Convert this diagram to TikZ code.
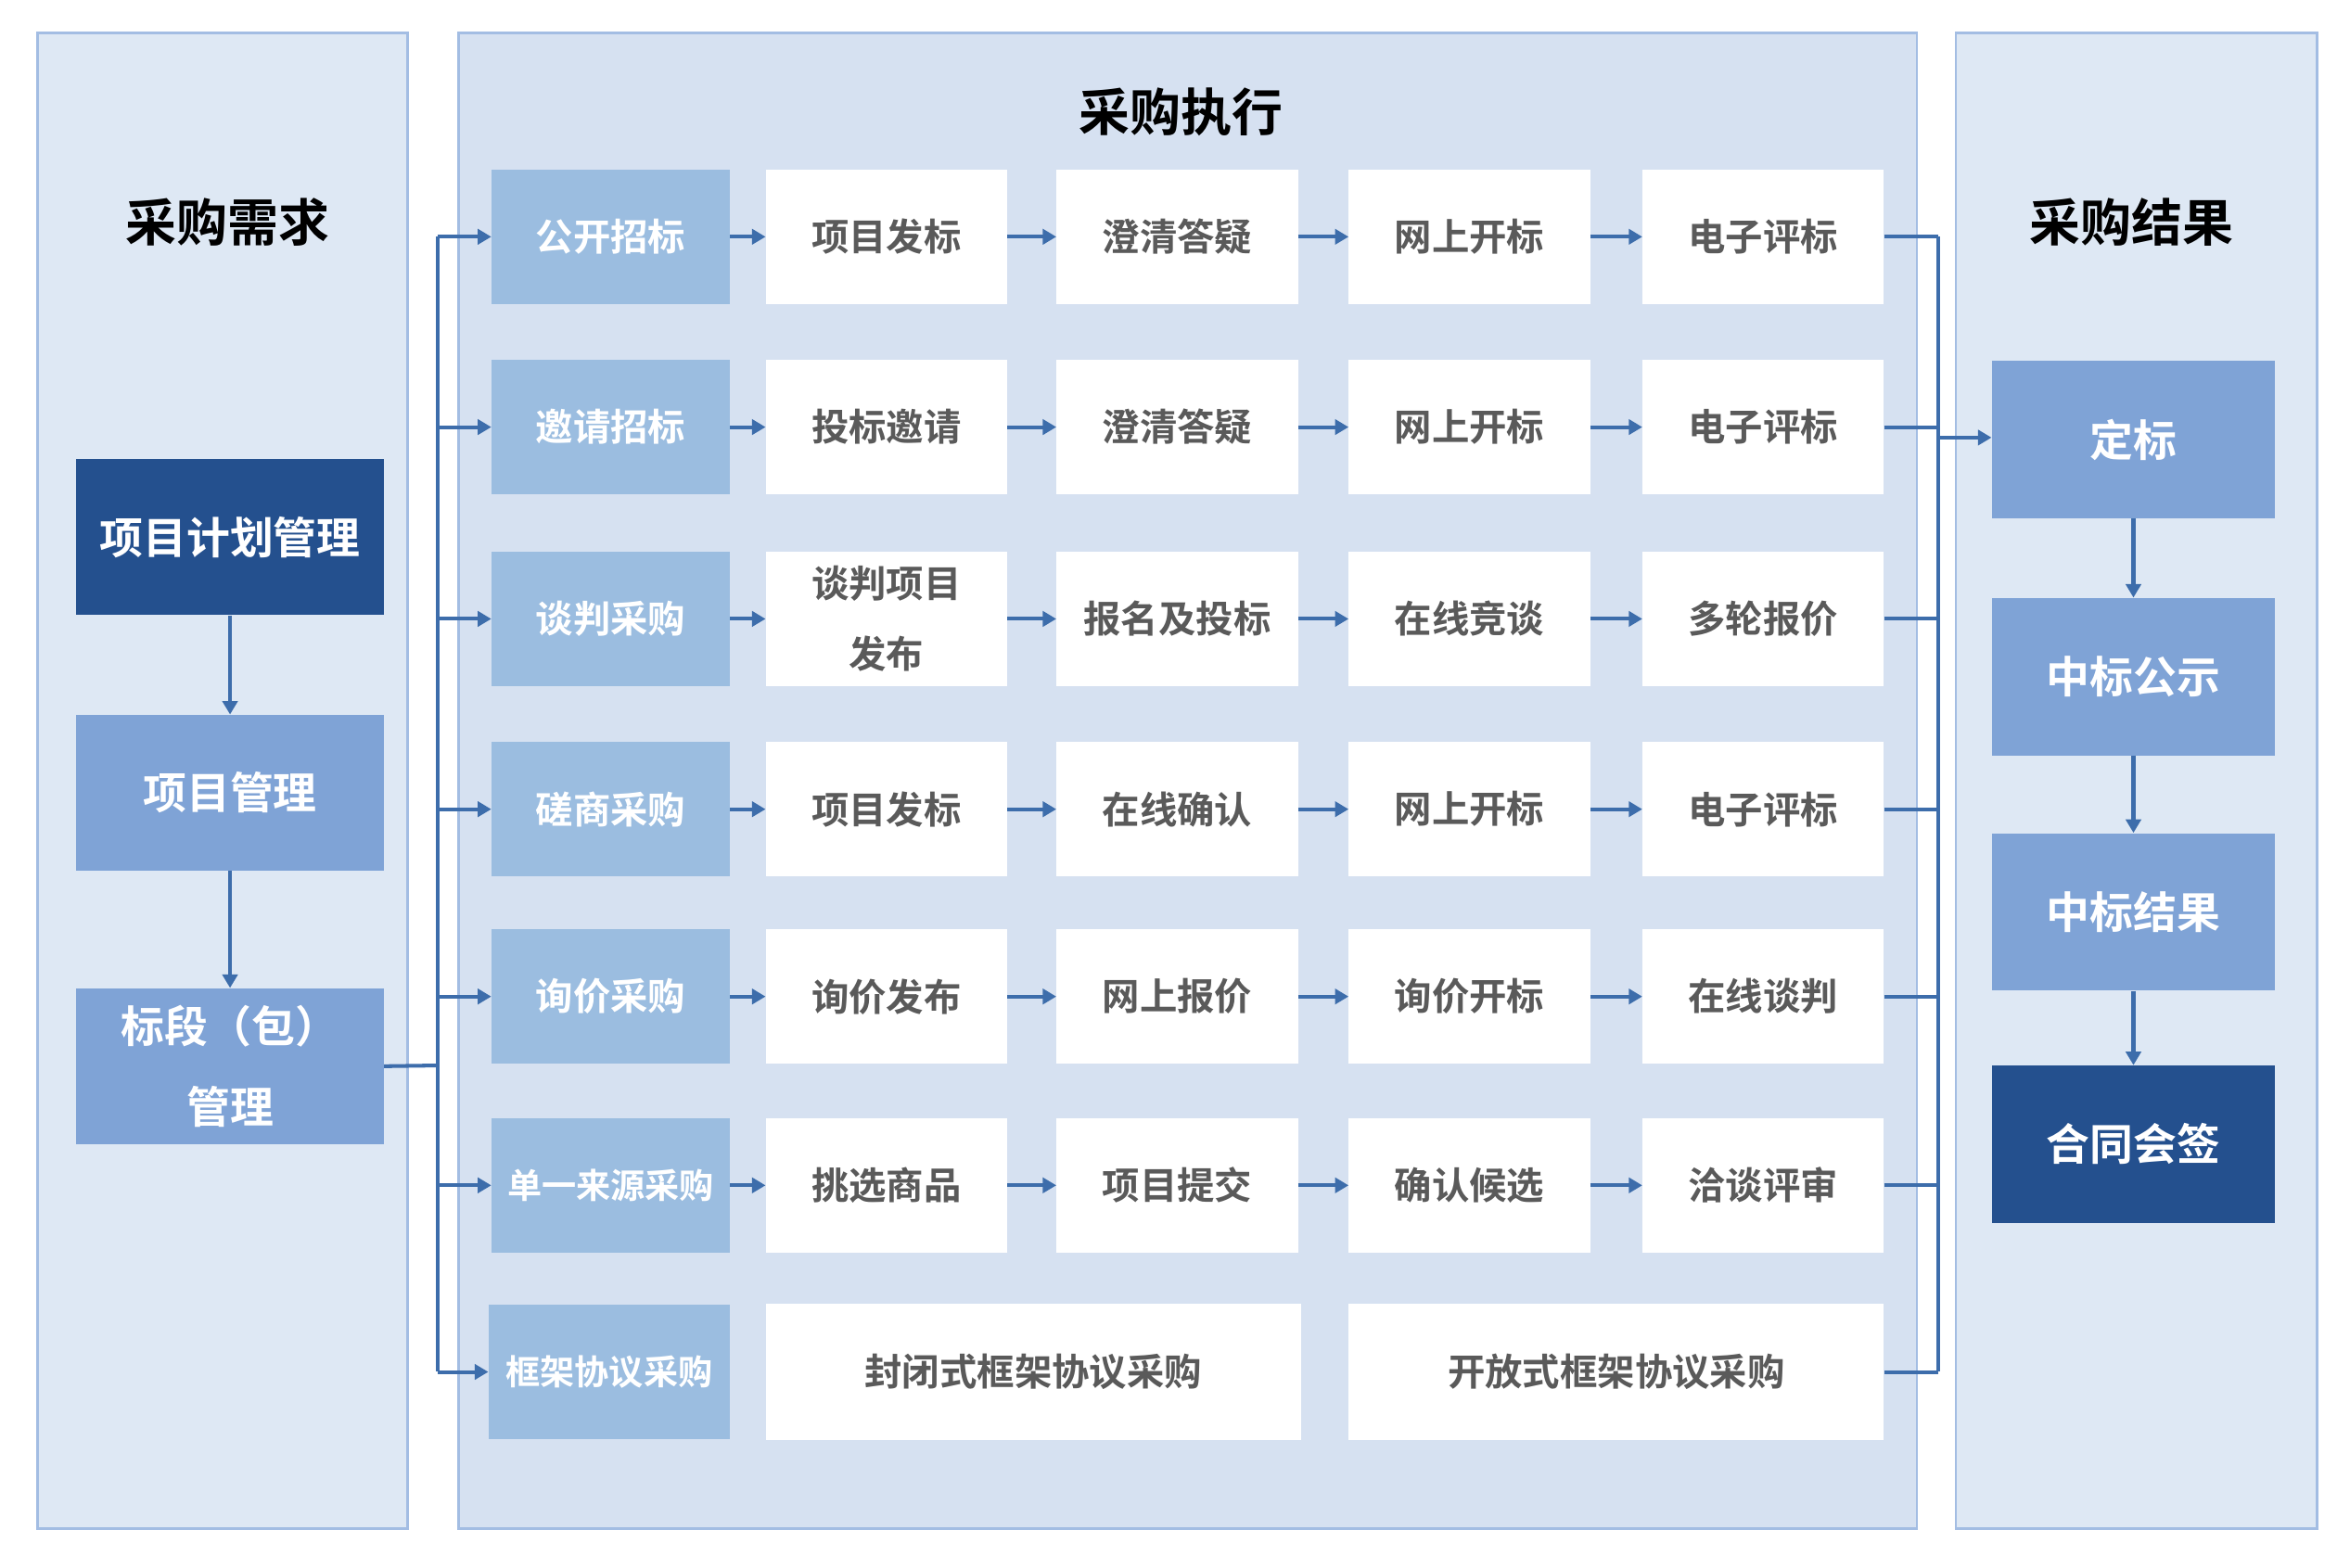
\documentclass[tikz,border=0pt]{standalone}
\usepackage{fontspec}
\setmainfont{Noto Sans CJK SC}[BoldFont={* Bold}]
\newfontfamily\cjkb{Noto Sans CJK SC Bold}
\usetikzlibrary{arrows.meta}
\definecolor{panelA}{HTML}{DEE8F4}
\definecolor{panelB}{HTML}{D6E1F1}
\definecolor{panelLine}{HTML}{A3BDE3}
\definecolor{catFill}{HTML}{9BBDE0}
\definecolor{midFill}{HTML}{7FA3D6}
\definecolor{darkFill}{HTML}{24508E}
\definecolor{arrowCol}{HTML}{3D6DAB}
\definecolor{textGray}{HTML}{5A5A5A}
\tikzset{
  panel/.style={draw=panelLine, line width=1.5pt},
  catbox/.style={fill=catFill, text=white, minimum width=159pt, minimum height=90pt, font=\cjkb\fontsize{25}{30}\selectfont, inner sep=0pt},
  stepbox/.style={fill=white, text=textGray, minimum width=161pt, minimum height=90pt, font=\cjkb\fontsize{25}{30}\selectfont, inner sep=0pt, align=center},
  widebox/.style={fill=white, text=textGray, minimum width=357pt, minimum height=91pt, font=\cjkb\fontsize{25}{30}\selectfont, inner sep=0pt},
  lbox/.style={minimum width=205pt, minimum height=104pt, text=white, font=\cjkb\fontsize{29}{36}\selectfont, inner sep=0pt, align=center},
  rbox/.style={minimum width=189pt, minimum height=105pt, text=white, font=\cjkb\fontsize{29}{36}\selectfont, inner sep=0pt},
  flow/.style={draw=arrowCol, line width=2.5pt, -{Triangle[length=9pt,width=10pt]}},
  link/.style={draw=arrowCol, line width=2.5pt},
  title/.style={font=\cjkb\fontsize{34}{40}\selectfont, text=black},
}
\begin{document}
\begin{tikzpicture}[x=1pt,y=-1pt]
\useasboundingbox (0,0) rectangle (1568,1046);
\fill[white] (0,0) rectangle (1568,1046);
% panels
\draw[panel, fill=panelA] (25,22) rectangle (272,1020);
\draw[panel, fill=panelB] (306,22) rectangle (1279,1020);
\draw[panel, fill=panelA] (1305,22) rectangle (1546,1020);
\node[title] (tA) at (152,148) {采购需求};
\node[title] (tB) at (788,75) {采购执行};
\node[title] (tC) at (1422,148) {采购结果};
% left boxes
\node[lbox, fill=darkFill] (L1) at (153.5,358.5) {项目计划管理};
\node[lbox, fill=midFill] (L2) at (153.5,529) {项目管理};
\node[lbox, fill=midFill] (L3) at (153.5,711.5) {标段（包）\\[18pt]管理};
\draw[flow] (L1) -- (L2);
\draw[flow] (L2) -- (L3);
% right boxes
\node[rbox, fill=midFill] (R1) at (1423.5,293.5) {定标};
\node[rbox, fill=midFill] (R2) at (1423.5,451.5) {中标公示};
\node[rbox, fill=midFill] (R3) at (1423.5,608.5) {中标结果};
\node[rbox, fill=darkFill] (R4) at (1423.5,763.5) {合同会签};
\draw[flow] (R1) -- (R2);
\draw[flow] (R2) -- (R3);
\draw[flow] (R3) -- (R4);
% rows
\def\cx{407.5}
\def\ca{591.5}
\def\cb{785.5}
\def\cc{980.5}
\def\cd{1176.5}
\foreach \r/\y/\k/\a/\b/\c/\d in {
  1/158/公开招标/项目发标/澄清答疑/网上开标/电子评标,
  2/285/邀请招标/投标邀请/澄清答疑/网上开标/电子评标,
  3/413/谈判采购/{谈判项目\\[17pt]发布}/报名及投标/在线竞谈/多轮报价,
  4/540/磋商采购/项目发标/在线确认/网上开标/电子评标,
  5/665/询价采购/询价发布/网上报价/询价开标/在线谈判,
  6/791/{\fontsize{23}{28}\selectfont 单一来源采购}/挑选商品/项目提交/确认候选/洽谈评审}{
  \node[catbox] (K\r) at (\cx,\y) {\k};
  \node[stepbox] (A\r) at (\ca,\y) {\a};
  \node[stepbox] (B\r) at (\cb,\y) {\b};
  \node[stepbox] (C\r) at (\cc,\y) {\c};
  \node[stepbox] (D\r) at (\cd,\y) {\d};
  \draw[flow] (K\r) -- (A\r);
  \draw[flow] (A\r) -- (B\r);
  \draw[flow] (B\r) -- (C\r);
  \draw[flow] (C\r) -- (D\r);
}
\node[catbox, minimum width=161pt, font=\cjkb\fontsize{23}{28}\selectfont] (K7) at (406.5,915.5) {框架协议采购};
\node[widebox] (A7) at (689.5,915.5) {封闭式框架协议采购};
\node[widebox] (B7) at (1078.5,915.5) {开放式框架协议采购};
% left bus
\coordinate (busL) at (292,711);
\coordinate (busLt) at (292,158);
\coordinate (busLb) at (292,915);
\draw[link] (L3.east) -- (busL);
\draw[link] (busLt) -- (busLb);
\foreach \r in {1,...,7}{
  \draw[flow] (busL |- K\r.west) -- (K\r.west);
}
% right bus
\coordinate (busRt) at (1293,158);
\coordinate (busRb) at (1293,915);
\draw[link] (busRt) -- (busRb);
\foreach \r in {1,...,6}{
  \draw[link] (D\r.east) -- (busRt |- D\r.east);
}
\draw[link] (B7.east) -- (busRt |- B7.east);
\draw[flow] (1293,292) -- (R1.west |- 0,292);
\end{tikzpicture}
\end{document}
